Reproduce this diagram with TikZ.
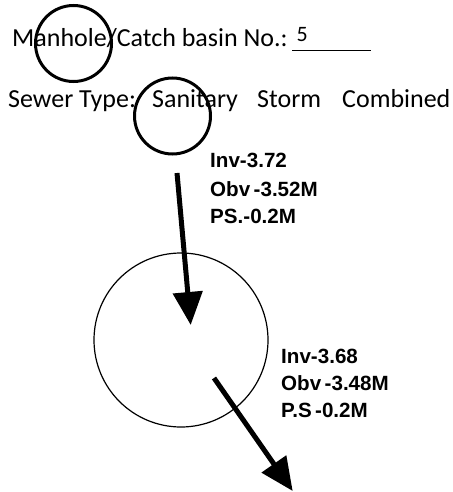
\documentclass[tikz,border=0pt]{standalone}
\usepackage{fontspec}
\setmainfont{Carlito}
\newfontfamily\labfont{Liberation Sans}
\usetikzlibrary{arrows.meta}
\tikzset{
  ring/.style={circle,draw=black,line width=3pt,minimum size=76pt,inner sep=0pt},
  hole/.style={circle,draw=black,line width=1.2pt,minimum size=174pt,inner sep=0pt},
  toptext/.style={anchor=base west,inner sep=0pt,font=\fontsize{26}{28}\selectfont},
  numtext/.style={anchor=base west,inner sep=0pt,font=\fontsize{22}{24}\selectfont},
  lab/.style={anchor=base west,inner sep=0pt,font=\labfont\bfseries\fontsize{20.6}{23}\selectfont},
  flow/.style={line width=5pt,-{Triangle[length=33pt,width=29pt]}}
}
\begin{document}
\begin{tikzpicture}[x=1pt,y=-1pt]
\useasboundingbox (0,0) rectangle (452,492);
\node[toptext] (t1) at (12,46.5) {Manhole/Catch basin No.:};
\node[numtext] (n5) at (296.5,42) {5};
\coordinate (ua) at (292,50.5);
\coordinate (ub) at (371,50.5);
\draw[line width=1.2pt] (ua) -- (ub);
\node[toptext] (t2) at (8,107) {Sewer Type:};
\node[toptext] (t3) at (152,107) {Sanitary};
\node[toptext] (t4) at (257,107) {Storm};
\node[toptext] (t5) at (342,107) {Combined};
\node[ring] (r1) at (73.5,43.5) {};
\node[ring] (r2) at (172.5,116) {};
\node[hole] (h) at (181,340) {};
\node[lab] (a1) at (210,167) {Inv-3.72};
\node[lab] (a2) at (210,196) {Obv\,-3.52M};
\node[lab] (a3) at (210,223) {PS.-0.2M};
\node[lab] (b1) at (281,363) {Inv-3.68};
\node[lab] (b2) at (281,390) {Obv\,-3.48M};
\node[lab] (b3) at (281,417) {P.S\,-0.2M};
\coordinate (s1) at (177,173);
\coordinate (e1) at (190.7,325);
\coordinate (s2) at (214,378);
\coordinate (e2) at (292.7,491);
\draw[flow] (s1) -- (e1);
\draw[flow] (s2) -- (e2);
\end{tikzpicture}
\end{document}
